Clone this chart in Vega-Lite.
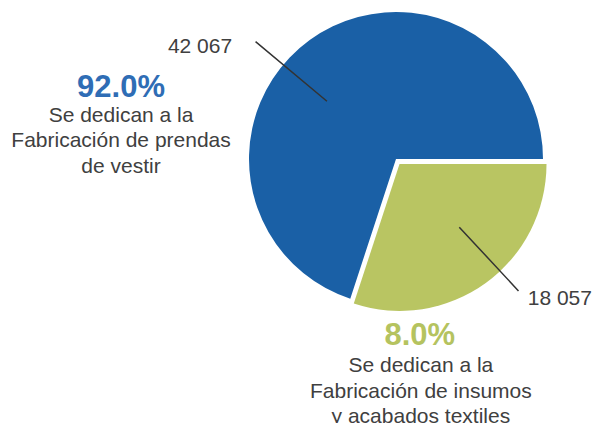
{
  "$schema": "https://vega.github.io/schema/vega-lite/v6.json",
  "autosize": {"type": "none"},
  "width": 294,
  "height": 294,
  "padding": {"left": 249, "top": 12, "right": 49, "bottom": 117},
  "config": {
    "view": {"stroke": null},
    "locale": {"number": {"decimal": ",", "thousands": " ", "grouping": [3], "currency": ["$", ""]}},
    "text": {"font": "Liberation Sans"}
  },
  "data": {
    "values": [
      {"sector": "prendas", "value": 42067, "pct": "92.0%", "desc": "Se dedican a la|Fabricación de prendas|de vestir"},
      {"sector": "insumos", "value": 18057, "pct": "8.0%", "desc": "Se dedican a la|Fabricación de insumos|y acabados textiles"}
    ]
  },
  "encoding": {
    "theta": {"field": "value", "type": "quantitative", "stack": true, "scale": {"range": [1.5708, 7.854]}},
    "order": {"field": "value", "type": "quantitative", "sort": "ascending"}
  },
  "layer": [
    {
      "mark": {"type": "arc"},
      "encoding": {
        "color": {"field": "sector", "type": "nominal", "scale": {"domain": ["prendas", "insumos"], "range": ["#1A60A6", "#B9C562"]}, "legend": null},
        "opacity": {"condition": {"test": "datum.sector === 'insumos'", "value": 0}, "value": 1}
      }
    },
    {
      "mark": {"type": "arc", "xOffset": 3.5, "yOffset": 4.9},
      "encoding": {
        "color": {"field": "sector", "type": "nominal", "legend": null},
        "opacity": {"condition": {"test": "datum.sector === 'insumos'", "value": 1}, "value": 0}
      }
    },
    {
      "mark": {"type": "arc", "innerRadius": 90, "outerRadius": 183, "thetaOffset": -0.5585, "theta2Offset": -0.5585, "fill": "transparent", "stroke": "#333333", "strokeWidth": 1.5},
      "encoding": {
        "theta": {"field": "value", "type": "quantitative", "stack": null},
        "theta2": {"field": "value"},
        "strokeOpacity": {"condition": {"test": "datum.sector === 'prendas'", "value": 1}, "value": 0}
      }
    },
    {
      "mark": {"type": "arc", "innerRadius": 93, "outerRadius": 180, "thetaOffset": -1.0647, "theta2Offset": -1.0647, "fill": "transparent", "stroke": "#333333", "strokeWidth": 1.5},
      "encoding": {
        "theta": {"field": "value", "type": "quantitative", "stack": null},
        "theta2": {"field": "value"},
        "strokeOpacity": {"condition": {"test": "datum.sector === 'insumos'", "value": 1}, "value": 0}
      }
    },
    {
      "mark": {"type": "text", "radius": 195.3, "thetaOffset": -0.368, "align": "right", "baseline": "alphabetic", "fontSize": 21, "fill": "#404040"},
      "encoding": {
        "text": {"field": "value", "type": "quantitative", "format": ",d"},
        "opacity": {"condition": {"test": "datum.sector === 'prendas'", "value": 1}, "value": 0}
      }
    },
    {
      "mark": {"type": "text", "radius": 196.8, "thetaOffset": -0.106, "align": "left", "baseline": "alphabetic", "fontSize": 21, "fill": "#404040"},
      "encoding": {
        "text": {"field": "value", "type": "quantitative", "format": ",d"},
        "opacity": {"condition": {"test": "datum.sector === 'insumos'", "value": 1}, "value": 0}
      }
    },
    {
      "mark": {"type": "text", "radius": 281.9, "thetaOffset": -0.721, "align": "center", "baseline": "alphabetic", "fontSize": 31, "fontWeight": "bold", "fill": "#2F6DB5"},
      "encoding": {
        "text": {"field": "pct", "type": "nominal"},
        "opacity": {"condition": {"test": "datum.sector === 'prendas'", "value": 1}, "value": 0}
      }
    },
    {
      "mark": {"type": "text", "radius": 277.5, "thetaOffset": -0.808, "align": "center", "baseline": "alphabetic", "fontSize": 21, "lineBreak": "|", "lineHeight": 25.5, "fill": "#404040"},
      "encoding": {
        "text": {"field": "desc", "type": "nominal"},
        "opacity": {"condition": {"test": "datum.sector === 'prendas'", "value": 1}, "value": 0}
      }
    },
    {
      "mark": {"type": "text", "radius": 187.5, "thetaOffset": 0.5, "align": "center", "baseline": "alphabetic", "fontSize": 31, "fontWeight": "bold", "fill": "#B5C35F"},
      "encoding": {
        "text": {"field": "pct", "type": "nominal"},
        "opacity": {"condition": {"test": "datum.sector === 'insumos'", "value": 1}, "value": 0}
      }
    },
    {
      "mark": {"type": "text", "radius": 214.5, "thetaOffset": 0.511, "align": "center", "baseline": "alphabetic", "fontSize": 21, "lineBreak": "|", "lineHeight": 25.5, "fill": "#404040"},
      "encoding": {
        "text": {"field": "desc", "type": "nominal"},
        "opacity": {"condition": {"test": "datum.sector === 'insumos'", "value": 1}, "value": 0}
      }
    }
  ]
}
